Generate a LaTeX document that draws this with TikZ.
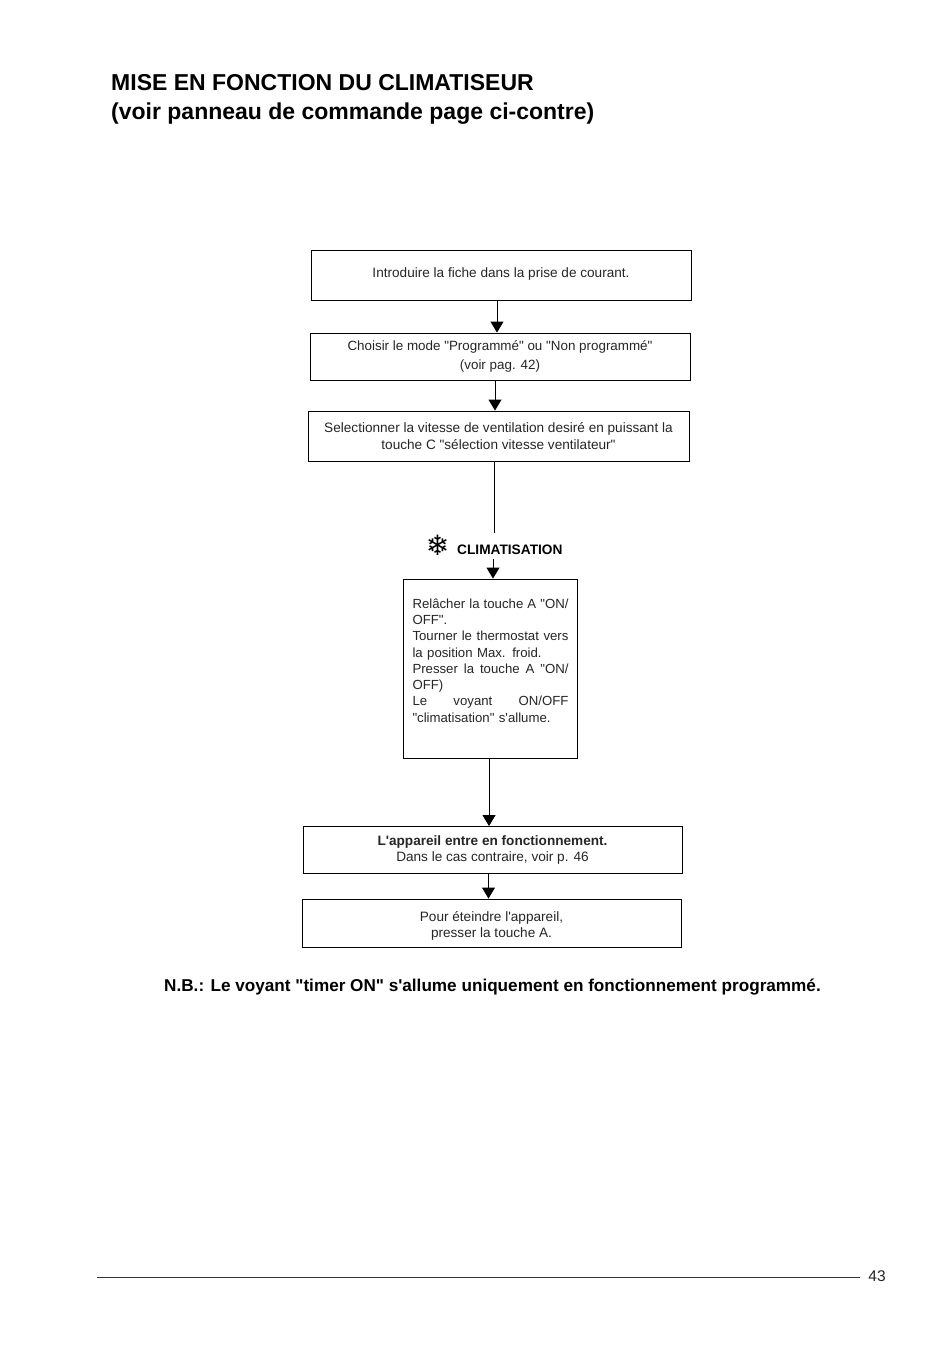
\documentclass[tikz,border=0pt]{standalone}
\usepackage{fontspec}
\setmainfont[Ligatures=TeXOff]{Liberation Sans}
\newfontfamily\symfont{DejaVu Sans}
\usetikzlibrary{arrows.meta}

\newcommand{\fillline}[1]{\leavevmode\hbox to 156pt{#1}}

\begin{document}
\begin{tikzpicture}[
  >={Triangle[length=11pt,width=13pt]},
  x=1pt, y=-1pt,
  stepbox/.style={draw=black, line width=0.9pt, inner sep=0pt, align=center, font=\fontsize{13.6}{16.5}\selectfont, text=black!85},
  flow/.style={->, draw=black, line width=0.9pt},
  plainflow/.style={draw=black, line width=0.9pt},
  ptitle/.style={font=\bfseries\fontsize{23}{29}\selectfont, anchor=west, align=left},
]
\useasboundingbox (0,0) rectangle (950,1363);
\fill[white] (0,0) rectangle (950,1363);

% ============================== title ==============================
\node[ptitle, inner sep=0pt] (title) at (111,99) {MISE EN FONCTION DU CLIMATISEUR\\(voir panneau de commande page ci-contre)};

% ============================== steps ==============================
\node[stepbox, minimum width=380pt, minimum height=50pt] (fiche) at (501,275) {Introduire la fiche dans la prise de courant.\rule[-5pt]{0pt}{5pt}};
\node[stepbox, minimum width=380pt, minimum height=47pt, font=\fontsize{13.4}{19.5}\selectfont] (mode) at (500,356.5) {Choisir le mode "Programmé" ou "Non programmé"\\(voir pag. 42)};
\node[stepbox, minimum width=381pt, minimum height=50pt] (vitesse) at (498.5,436) {Selectionner la vitesse de ventilation desiré en puissant la\\touche C "sélection vitesse ventilateur"};

\node[anchor=west, font=\bfseries\fontsize{13.7}{15}\selectfont, inner sep=0pt, minimum height=18pt] (clim) at (457,550) {CLIMATISATION};
\node[font=\symfont\fontsize{28}{28}\selectfont, inner sep=0pt] (flocon) at (437.5,545) {❄};

\node[stepbox, minimum width=174pt, minimum height=179pt, text width=156pt, align=left, font=\fontsize{13.2}{16.3}\selectfont] (touche) at (490.5,668.5) {%
  \fillline{Relâcher\hfill la\hfill touche\hfill A\hfill "ON/}\\
  OFF".\\
  \fillline{Tourner\hfill le\hfill thermostat\hfill vers}\\
  la position Max. froid.\\
  \fillline{Presser\hfill la\hfill touche\hfill A\hfill "ON/}\\
  OFF)\\
  \fillline{Le\hfill voyant\hfill ON/OFF}\\
  "climatisation" s'allume.\\
  \mbox{}};

\node[stepbox, minimum width=379pt, minimum height=47pt] (marche) at (492.5,850) {\textbf{L'appareil entre en fonctionnement.}\\Dans le cas contraire, voir p. 46};
\node[stepbox, minimum width=379pt, minimum height=48pt] (arret) at (491.5,923) {\rule{0pt}{16pt}Pour éteindre l'appareil,\\presser la touche A.};

% ============================== connectors ==============================
\foreach \from/\to/\dx in {fiche/mode/-4, mode/vitesse/-5, touche/marche/-1.5, marche/arret/-4}{
  \draw[flow] ([xshift=\dx]\from.south) -- ([xshift=\dx]\from.south |- \to.north);
}
\draw[plainflow] ([xshift=-4.5]vitesse.south) -- ([xshift=-4.5,yshift=8pt]vitesse.south |- clim.north);
\draw[flow] ([xshift=2.5]touche.north |- clim.south) -- ([xshift=2.5]touche.north);

% ============================== note & footer ==============================
\node[font=\bfseries\fontsize{17.15}{20}\selectfont, anchor=center, inner sep=0pt] (note) at (492.5,987) {N.B.: Le voyant "timer ON" s'allume uniquement en fonctionnement programmé.};
\node[font=\fontsize{15.5}{18}\selectfont, text=black!85, inner sep=0pt] (page) at (877,1276) {43};
\coordinate (footstart) at (97,1277);
\coordinate (footend) at (860,1277);
\draw[black!80, line width=0.7pt] (footstart) -- (footend);
\end{tikzpicture}
\end{document}
